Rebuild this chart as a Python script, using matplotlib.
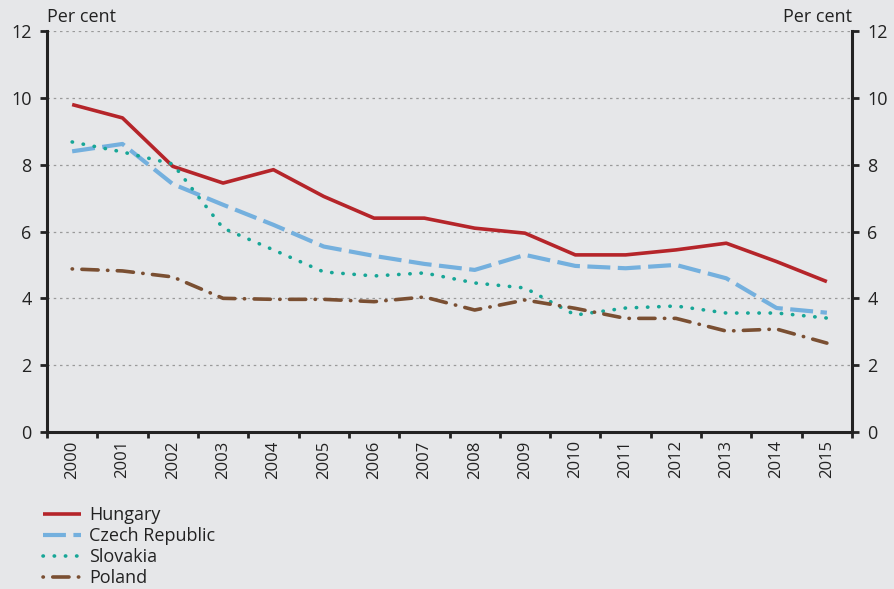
import numpy as np
import matplotlib
matplotlib.use("Agg")
import matplotlib.pyplot as plt

plt.rcParams['font.family'] = ['Open Sans', 'DejaVu Sans']

years = list(range(2000, 2016))
hungary = [9.8, 9.4, 7.95, 7.45, 7.85, 7.05, 6.4, 6.4, 6.1, 5.95, 5.3, 5.3, 5.45, 5.65, 5.1, 4.5]
czech = [8.4, 8.62, 7.42, 6.8, 6.2, 5.55, 5.27, 5.03, 4.85, 5.3, 4.97, 4.9, 5.0, 4.6, 3.71, 3.57]
slovakia = [8.68, 8.38, 8.02, 6.1, 5.45, 4.79, 4.67, 4.76, 4.46, 4.31, 3.5, 3.71, 3.77, 3.56, 3.56, 3.41]
poland = [4.88, 4.82, 4.64, 4.0, 3.97, 3.97, 3.9, 4.04, 3.65, 3.95, 3.7, 3.4, 3.4, 3.02, 3.08, 2.66]

bg = '#e6e7e9'
fig = plt.figure(figsize=(8.95, 5.89), dpi=100, facecolor=bg)
ax = fig.add_axes([0.0525, 0.2666, 0.8995, 0.6807], facecolor=bg)

x = np.arange(len(years))
l1, = ax.plot(x, hungary, color='#b5252a', lw=2.6, solid_capstyle='butt')
l2, = ax.plot(x, czech, color='#74b0de', lw=3, dashes=(5.5, 1.8))
l3, = ax.plot(x, slovakia, color='#17a697', lw=2.6, dashes=(0.1, 3.0), dash_capstyle='round')
l4, = ax.plot(x, poland, color='#7a4f32', lw=2.6, dashes=(0.1, 2.6, 4.5, 2.6), dash_capstyle='round')

ax.set_xlim(-0.5, len(years) - 0.5)
ax.set_ylim(0, 12)
ax.set_yticks(range(0, 13, 2))
ax.yaxis.grid(True, color='#9a9a9a', linestyle=(0, (2, 3)), lw=0.9)
ax.set_axisbelow(True)

# year boundaries get the ticks, labels sit in the middle
ax.set_xticks(np.arange(-0.5, len(years), 1.0))
ax.set_xticklabels([])
ax.set_xticks(x, minor=True)
ax.set_xticklabels([str(y) for y in years], minor=True, rotation=90, fontsize=12, color='#222222')
ax.tick_params(axis='x', which='minor', length=0, pad=6)
ax.tick_params(axis='x', which='major', length=4, width=2, color='#222222')

for s in ['left', 'right', 'bottom']:
    ax.spines[s].set_linewidth(2.2)
    ax.spines[s].set_color('#222222')
ax.spines['top'].set_visible(False)

ax.tick_params(axis='y', which='both', left=True, right=True, labelleft=True, labelright=True,
               length=5, width=2, color='#222222', labelsize=13, labelcolor='#222222', pad=6)

fig.text(0.053, 0.962, 'Per cent', fontsize=13, color='#222222', ha='left')
fig.text(0.952, 0.962, 'Per cent', fontsize=13, color='#222222', ha='right')

fig.legend([l1, l2, l3, l4], ['Hungary', 'Czech Republic', 'Slovakia', 'Poland'],
           loc='lower left', bbox_to_anchor=(0.03, -0.024), frameon=False, fontsize=13,
           handlelength=2.1, labelspacing=0.16, handletextpad=0.45, labelcolor='#222222')

fig.savefig('out.png', dpi=100, facecolor=bg)
